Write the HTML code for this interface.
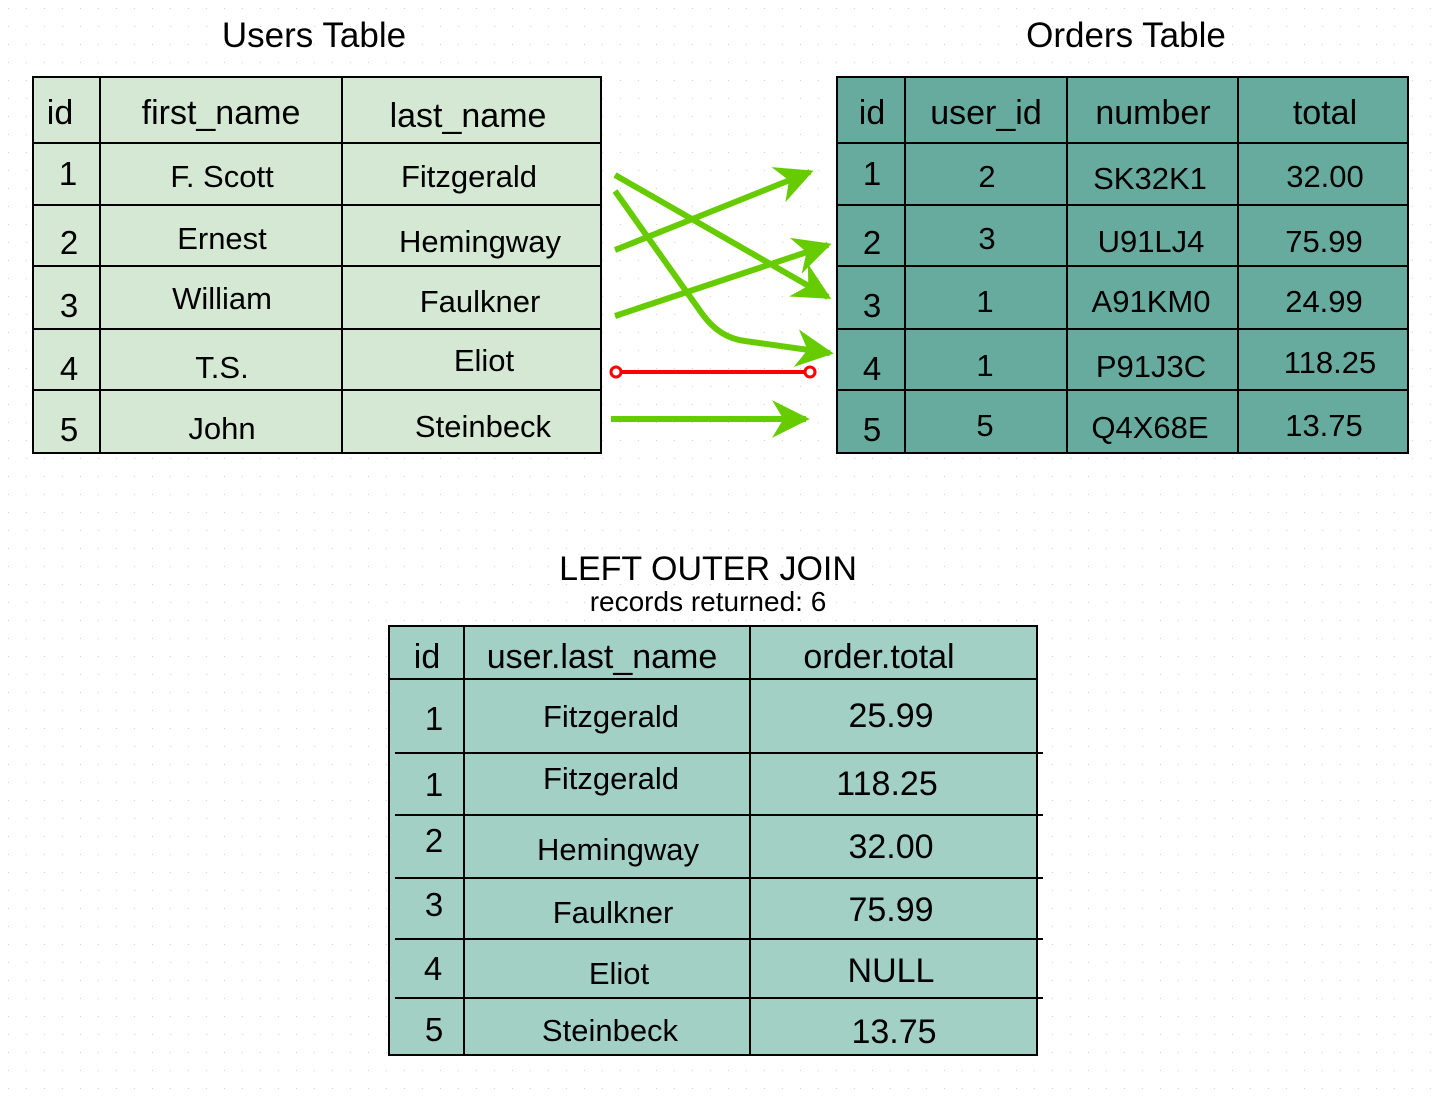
<!DOCTYPE html>
<html><head><meta charset="utf-8"><style>
html,body{margin:0;padding:0;background:#fff}
svg{display:block}
text{font-family:"Liberation Sans",Arial,sans-serif;fill:#000;text-anchor:middle}
</style></head><body>
<svg width="1440" height="1100" viewBox="0 0 1440 1100" xmlns="http://www.w3.org/2000/svg">
<defs>
<pattern id="dots" width="18" height="18" patternUnits="userSpaceOnUse"><rect x="8" y="8" width="1" height="1" fill="#d0d0d0"/></pattern>
<marker id="ah" viewBox="0 0 10 10" refX="9" refY="5" markerWidth="6.3" markerHeight="6.3" orient="auto" markerUnits="strokeWidth"><path d="M0,0 L10,5 L0,10 L3,5 z" fill="#66cc00"/></marker>
</defs>
<rect width="1440" height="1100" fill="url(#dots)"/>

<!-- Users table -->
<g font-size="31">
<text x="314" y="47" font-size="35">Users Table</text>
<rect x="33" y="77" width="568" height="376" fill="#d5e8d4" stroke="#000" stroke-width="2"/>
<g stroke="#000" stroke-width="2">
<line x1="33" y1="143" x2="601" y2="143"/><line x1="33" y1="205" x2="601" y2="205"/><line x1="33" y1="266" x2="601" y2="266"/><line x1="33" y1="329" x2="601" y2="329"/><line x1="33" y1="390" x2="601" y2="390"/>
<line x1="100" y1="77" x2="100" y2="453"/><line x1="342" y1="77" x2="342" y2="453"/>
</g>
<text x="60" y="124" font-size="34">id</text><text x="221" y="124" font-size="34">first_name</text><text x="468" y="127" font-size="34">last_name</text>
<text x="68" y="185" font-size="33">1</text><text x="222" y="187">F. Scott</text><text x="469" y="187">Fitzgerald</text>
<text x="69" y="254" font-size="33">2</text><text x="222" y="249">Ernest</text><text x="480" y="252">Hemingway</text>
<text x="69" y="317" font-size="33">3</text><text x="222" y="309">William</text><text x="480" y="312">Faulkner</text>
<text x="69" y="380" font-size="33">4</text><text x="222" y="378">T.S.</text><text x="484" y="371">Eliot</text>
<text x="69" y="441" font-size="33">5</text><text x="222" y="439">John</text><text x="483" y="437">Steinbeck</text>
</g>

<!-- Orders table -->
<g font-size="31">
<text x="1126" y="47" font-size="35">Orders Table</text>
<rect x="837" y="77" width="571" height="376" fill="#67ab9f" stroke="#000" stroke-width="2"/>
<g stroke="#000" stroke-width="2">
<line x1="837" y1="143" x2="1408" y2="143"/><line x1="837" y1="205" x2="1408" y2="205"/><line x1="837" y1="266" x2="1408" y2="266"/><line x1="837" y1="329" x2="1408" y2="329"/><line x1="837" y1="390" x2="1408" y2="390"/>
<line x1="905" y1="77" x2="905" y2="453"/><line x1="1067" y1="77" x2="1067" y2="453"/><line x1="1238" y1="77" x2="1238" y2="453"/>
</g>
<text x="872" y="124" font-size="34">id</text><text x="986" y="124" font-size="34">user_id</text><text x="1153" y="124" font-size="34">number</text><text x="1325" y="124" font-size="34">total</text>
<text x="872" y="185" font-size="33">1</text><text x="987" y="187">2</text><text x="1150" y="189">SK32K1</text><text x="1325" y="187">32.00</text>
<text x="872" y="254" font-size="33">2</text><text x="987" y="249">3</text><text x="1151" y="252">U91LJ4</text><text x="1324" y="252">75.99</text>
<text x="872" y="317" font-size="33">3</text><text x="985" y="312">1</text><text x="1151" y="312">A91KM0</text><text x="1324" y="312">24.99</text>
<text x="872" y="380" font-size="33">4</text><text x="985" y="376">1</text><text x="1151" y="377">P91J3C</text><text x="1330" y="373">118.25</text>
<text x="872" y="441" font-size="33">5</text><text x="985" y="436">5</text><text x="1150" y="438">Q4X68E</text><text x="1324" y="436">13.75</text>
</g>

<!-- Connectors -->
<g stroke="#66cc00" stroke-width="6" fill="none" marker-end="url(#ah)">
<line x1="615" y1="175" x2="828" y2="297"/>
<path d="M615,191 L703,315 Q720,338 745,341 L830,353"/>
<line x1="615" y1="250" x2="810" y2="172"/>
<line x1="615" y1="316" x2="828" y2="245"/>
<line x1="611" y1="419" x2="806" y2="419"/>
</g>
<line x1="616" y1="372" x2="810" y2="372" stroke="#ff0000" stroke-width="4"/>
<circle cx="616" cy="372" r="5" fill="#fff" stroke="#ff0000" stroke-width="3"/>
<circle cx="810" cy="372" r="5" fill="#fff" stroke="#ff0000" stroke-width="3"/>

<!-- Result -->
<g font-size="31">
<text x="708" y="580" font-size="34">LEFT OUTER JOIN</text>
<text x="708" y="611" font-size="28">records returned: 6</text>
<rect x="389" y="626" width="648" height="429" fill="#a2d0c4" stroke="#000" stroke-width="2"/>
<g stroke="#000" stroke-width="2">
<line x1="389" y1="679" x2="1037" y2="679"/><line x1="395" y1="753" x2="1043" y2="753"/><line x1="395" y1="815" x2="1043" y2="815"/><line x1="395" y1="878" x2="1043" y2="878"/><line x1="395" y1="939" x2="1043" y2="939"/><line x1="395" y1="998" x2="1043" y2="998"/>
<line x1="464" y1="626" x2="464" y2="1055"/><line x1="750" y1="626" x2="750" y2="1055"/>
</g>
<text x="427" y="668" font-size="34">id</text><text x="602" y="668" font-size="34">user.last_name</text><text x="879" y="668" font-size="34">order.total</text>
<text x="434" y="730" font-size="33">1</text><text x="611" y="727">Fitzgerald</text><text x="891" y="727" font-size="34">25.99</text>
<text x="434" y="796" font-size="33">1</text><text x="611" y="789">Fitzgerald</text><text x="887" y="795" font-size="34">118.25</text>
<text x="434" y="852" font-size="33">2</text><text x="618" y="860">Hemingway</text><text x="891" y="858" font-size="34">32.00</text>
<text x="434" y="916" font-size="33">3</text><text x="613" y="923">Faulkner</text><text x="891" y="921" font-size="34">75.99</text>
<text x="433" y="980" font-size="33">4</text><text x="619" y="984">Eliot</text><text x="891" y="982" font-size="34">NULL</text>
<text x="434" y="1041" font-size="33">5</text><text x="610" y="1041">Steinbeck</text><text x="894" y="1043" font-size="34">13.75</text>
</g>
</svg>
</body></html>
